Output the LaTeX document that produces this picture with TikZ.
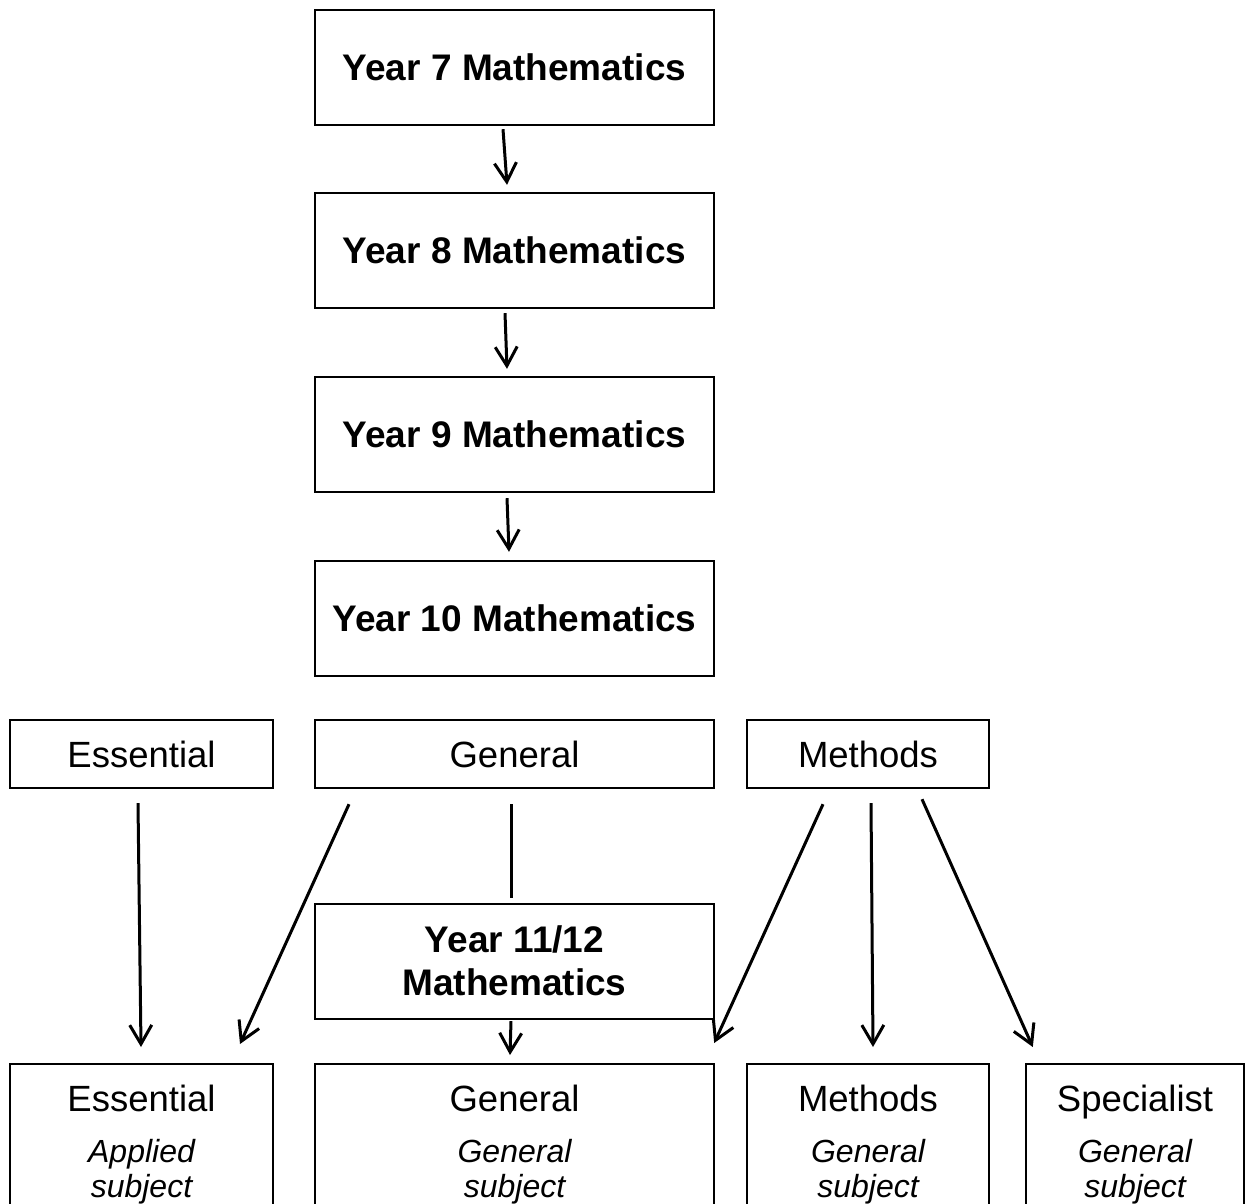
\documentclass[tikz,border=0pt]{standalone}
\usepackage{fontspec}
\setmainfont{Liberation Sans}
\usetikzlibrary{arrows.meta,calc}
\newcommand\boldtxt{\fontsize{37}{43}\selectfont\bfseries}
\newcommand\regtxt{\fontsize{36.5}{42}\selectfont}
\newcommand\ittxt{\fontsize{32}{36}\selectfont\itshape}
\begin{document}
\begin{tikzpicture}[x=1pt,y=-1pt,
  box/.style={draw=black,line width=2.4pt,inner sep=0pt,rectangle},
  bigbox/.style={box,minimum width=399pt,minimum height=115pt,font=\boldtxt},
  rowbox/.style={box,minimum height=68pt,font=\regtxt},
  lbl/.style={anchor=base,inner sep=0pt},
  arr/.style={line width=3pt,-{Straight Barb[length=19pt,width=22pt]}},
  plain/.style={line width=3pt}]
\useasboundingbox (0,0) rectangle (1246,1203);
\clip (0,0) rectangle (1246,1203);
% year boxes
\node[bigbox] (y7) at (514.5,67.5) {Year 7 Mathematics};
\node[bigbox] (y8) at (514.5,250.5) {Year 8 Mathematics};
\node[bigbox] (y9) at (514.5,434.5) {Year 9 Mathematics};
\node[bigbox] (y10) at (514.5,618.5) {Year 10 Mathematics};
% second row
\node[rowbox,minimum width=263pt] (ess) at (141.5,754) {Essential};
\node[rowbox,minimum width=399pt] (gen) at (514.5,754) {General};
\node[rowbox,minimum width=242pt] (met) at (868,754) {Methods};
% year 11/12
\node[box,minimum width=399pt,minimum height=115pt] (y1112) at (514.5,961.5) {};
\node[lbl,font=\boldtxt] (y1112a) at (514.5,952) {Year 11/12};
\node[lbl,font=\boldtxt] (y1112b) at (514.5,995) {Mathematics};
% bottom row
\node[box,minimum width=263pt,minimum height=200pt,anchor=north] (essb) at (141.5,1063) {};
\node[box,minimum width=399pt,minimum height=200pt,anchor=north] (genb) at (514.5,1063) {};
\node[box,minimum width=242pt,minimum height=200pt,anchor=north] (metb) at (868,1063) {};
\node[box,minimum width=218pt,minimum height=200pt,anchor=north] (spb) at (1135,1063) {};
\node[lbl,font=\regtxt] (essb1) at (141.5,1111) {Essential};
\node[lbl,font=\ittxt] (essb2) at (141.5,1162) {Applied};
\node[lbl,font=\ittxt] (essb3) at (141.5,1197) {subject};
\node[lbl,font=\regtxt] (genb1) at (514.5,1111) {General};
\node[lbl,font=\ittxt] (genb2) at (514.5,1162) {General};
\node[lbl,font=\ittxt] (genb3) at (514.5,1197) {subject};
\node[lbl,font=\regtxt] (metb1) at (868,1111) {Methods};
\node[lbl,font=\ittxt] (metb2) at (868,1162) {General};
\node[lbl,font=\ittxt] (metb3) at (868,1197) {subject};
\node[lbl,font=\regtxt] (spb1) at (1135,1111) {Specialist};
\node[lbl,font=\ittxt] (spb2) at (1135,1162) {General};
\node[lbl,font=\ittxt] (spb3) at (1135,1197) {subject};
% connectors
\draw[arr] ($(y7.south)+(-11.5,3)$) -- ($(y8.north)+(-7.5,-7)$);
\draw[arr] ($(y8.south)+(-9.5,4)$) -- ($(y9.north)+(-7.5,-7)$);
\draw[arr] ($(y9.south)+(-7.5,5)$) -- ($(y10.north)+(-5.5,-8)$);
\draw[arr] ($(ess.south)+(-3.5,14)$) -- ($(essb.north)+(-0.5,-16)$);
\draw[arr] ($(gen.south)+(-165.5,15)$) -- ($(essb.north)+(98.5,-19)$);
\draw[plain] ($(gen.south)+(-3.5,15)$) -- ($(y1112.north)+(-3.5,-5)$);
\draw[arr] ($(y1112.south)+(-3.5,1)$) -- ($(genb.north)+(-4.5,-8)$);
\draw[arr] ($(met.south)+(-45,15)$) -- ($(genb.north east)+(-1,-20)$);
\draw[arr] ($(met.south)+(3,14)$) -- ($(metb.north)+(5,-16)$);
\draw[arr] ($(met.south)+(54,10)$) -- ($(spb.north west)+(8,-16)$);
\end{tikzpicture}
\end{document}
